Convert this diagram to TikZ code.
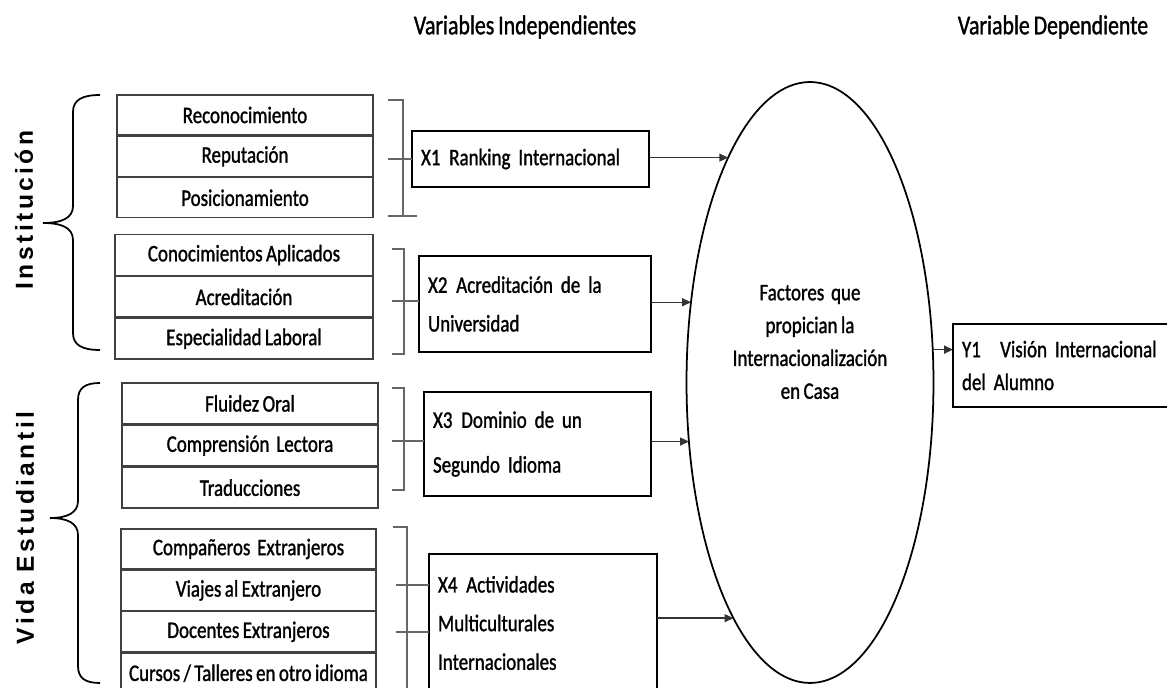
\documentclass[tikz,border=0pt]{standalone}
\usepackage{fontspec}
\setmainfont{Carlito}[FakeStretch=0.8, WordSpace=0.8, FakeBold=1.2]
\newfontfamily\sidefont{Liberation Sans}[LetterSpace=14]
\usetikzlibrary{positioning,shapes.geometric,arrows.meta}

\tikzset{
  item/.style={draw=black!75, line width=0.8pt, minimum height=0.8cm, inner sep=0pt,
    font=\fontsize{13.5}{15}\selectfont},
  varbox/.style={draw=black, line width=1.1pt, inner xsep=0.18cm, inner ysep=0pt,
    outer sep=0pt, align=left},
  klammer/.style={draw=black!60, line width=0.6pt},
  pfeil/.style={draw=black!80, line width=0.8pt, -{Triangle[length=5pt,width=4.5pt]}},
  titel/.style={font=\fontsize{15.5}{17}\selectfont},
  seite/.style={rotate=90, font=\sidefont\bfseries\fontsize{14}{16}\selectfont}
}

\begin{document}
\begin{tikzpicture}[x=0.02cm, y=-0.02cm]
\useasboundingbox (0,0) rectangle (1167,688);
\clip (0,0) rectangle (1167,688);

% Titel
\node[titel] (vi) at (525,27) {Variables Independientes};
\node[titel] (vd) at (1053,27) {Variable Dependiente};

% Seitenbeschriftung
\node[seite] (inst) at (24,210) {Institución};
\node[seite] (vida) at (25,528) {Vida Estudiantil};

% Klammern links
\draw[line width=1pt] (100,95) .. controls (82,95) and (73,100) .. (73,112) -- (73,206)
  .. controls (73,218) and (62,223) .. (43,223) .. controls (62,223) and (73,228) .. (73,240)
  -- (73,333) .. controls (73,345) and (82,350) .. (100,350);
\draw[line width=1pt] (100,383) .. controls (85,383) and (78,388) .. (78,400) -- (78,501)
  .. controls (78,513) and (67,518) .. (50,518) .. controls (67,518) and (78,523) .. (78,535)
  -- (78,666) .. controls (78,678) and (85,683) .. (100,683);

% Indikatoren
\node[item, minimum width=5.12cm] (r1) at (245,115) {Reconocimiento};
\node[item, minimum width=5.12cm, below=0pt of r1] (r2) {Reputación};
\node[item, minimum width=5.12cm, below=0pt of r2] (r3) {Posicionamiento};

\node[item, minimum width=5.16cm, minimum height=0.81cm] (a1) at (244,255) {Conocimientos Aplicados};
\node[item, minimum width=5.16cm, minimum height=0.81cm, below=0pt of a1] (a2) {Acreditación};
\node[item, minimum width=5.16cm, minimum height=0.81cm, below=0pt of a2] (a3) {Especialidad Laboral};

\node[item, minimum width=5.12cm, minimum height=0.815cm] (s1) at (250,403.4) {Fluidez Oral};
\node[item, minimum width=5.12cm, minimum height=0.815cm, below=0pt of s1] (s2) {Comprensión\ \ Lectora};
\node[item, minimum width=5.12cm, minimum height=0.815cm, below=0pt of s2] (s3) {Traducciones};

\node[item, minimum width=5.1cm] (m1) at (248.5,549) {Compañeros\ \ Extranjeros};
\node[item, minimum width=5.1cm, below=0pt of m1] (m2) {Viajes al Extranjero};
\node[item, minimum width=5.1cm, below=0pt of m2] (m3) {Docentes Extranjeros};
\node[item, minimum width=5.1cm, below=0pt of m3] (m4) {Cursos / Talleres en otro idioma};

% Variablen
\node[varbox, minimum width=4.74cm, minimum height=1.12cm, text width=4.38cm,
  font=\fontsize{13.5}{15}\selectfont] (x1) at (530.5,159) {X1\hspace{5pt}Ranking Internacional};
\node[varbox, minimum width=4.64cm, minimum height=1.92cm, text width=4.28cm,
  font=\fontsize{13.5}{22}\selectfont] (x2) at (535,304) {X2\hspace{5pt}Acreditación de la\\Universidad};
\node[varbox, minimum width=4.54cm, minimum height=2.08cm, text width=4.18cm,
  font=\fontsize{13.5}{25.5}\selectfont] (x3) at (537.5,444) {X3\hspace{5pt}Dominio de un\\Segundo Idioma};
\node[varbox, minimum width=4.56cm, minimum height=2.76cm, text width=4.2cm,
  font=\fontsize{13.5}{22}\selectfont] (x4) at (543,623) {X4\hspace{5pt}Actividades\\Multiculturales\\Internacionales};

% Klammern rechts
\draw[klammer] (388,100) -- (403,100) -- (403,216);
\draw[klammer] (388,216) -- (417,216);
\coordinate (k1) at (388,159);
\draw[klammer] (k1) -- (k1 -| x1.west);

\draw[klammer] (392,249) -- (404,249) -- (404,354) -- (392,354);
\coordinate (k2) at (392,301);
\draw[klammer] (k2) -- (k2 -| x2.west);

\draw[klammer] (392,388) -- (404,388) -- (404,490) -- (392,490);
\coordinate (k3) at (392,441);
\draw[klammer] (k3) -- (k3 -| x3.west);

\draw[klammer] (393,527) -- (407,527) -- (407,700);
\coordinate (k4) at (396,585);
\coordinate (k5) at (396,632);
\draw[klammer] (k4) -- (k4 -| x4.west);
\draw[klammer] (k5) -- (k5 -| x4.west);

% Ellipse
\node[draw, ellipse, line width=1pt, minimum width=4.94cm, minimum height=12.02cm,
  inner sep=0pt, outer sep=0pt] (fac) at (810,382.5) {};
\node[align=center, font=\fontsize{13.5}{18.7}\selectfont] (factxt) at (810,342)
  {Factores\ \ que\\propician la\\Internacionalización\\en Casa};

% abhaengige Variable
\node[varbox, minimum width=4.44cm, minimum height=1.66cm, text width=4.08cm,
  font=\fontsize{13.5}{18.7}\selectfont] (y1) at (1064,365.5) {Y1\hspace{11pt}Visión Internacional\\del Alumno};

% Pfeile
\draw[pfeil] (fac.110.26 -| x1.east) -- (fac.110.26);
\draw[pfeil] (fac.146.6 -| x2.east) -- (fac.146.6);
\draw[pfeil] (fac.206.96 -| x3.east) -- (fac.206.96);
\draw[pfeil] (fac.252.9 -| x4.east) -- (fac.252.9);
\draw[pfeil] (fac.15.27) -- (fac.15.27 -| y1.west);
\end{tikzpicture}
\end{document}
